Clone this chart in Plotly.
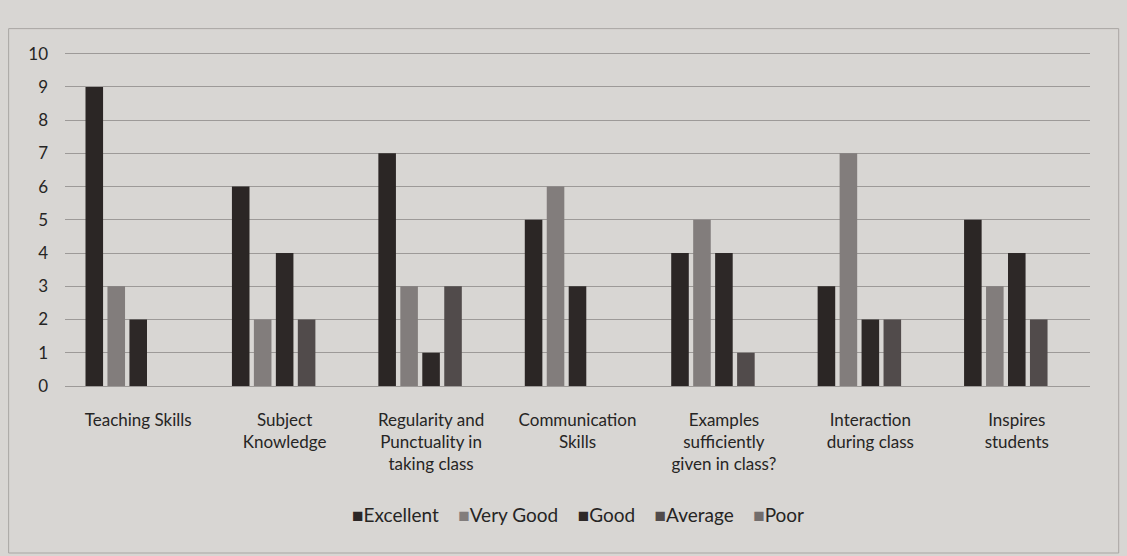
import plotly.graph_objects as go

categories = [
    "Teaching Skills",
    "Subject<br>Knowledge",
    "Regularity and<br>Punctuality in<br>taking class",
    "Communication<br>Skills",
    "Examples<br>sufficiently<br>given in class?",
    "Interaction<br>during class",
    "Inspires<br>students",
]

excellent = [9, 6, 7, 5, 4, 3, 5]
very_good = [3, 2, 3, 6, 5, 7, 3]
good = [2, 4, 1, 3, 4, 2, 4]
average = [0, 2, 3, 0, 1, 2, 2]
poor = [0, 0, 0, 0, 0, 0, 0]

series = [
    ("Excellent", excellent, "#2b2625"),
    ("Very Good", very_good, "#827d7c"),
    ("Good", good, "#2d2827"),
    ("Average", average, "#514b4b"),
    ("Poor", poor, "#726d6c"),
]

paper = "#d8d6d3"
text_color = "#262524"
font_family = "Lato, 'Open Sans', sans-serif"

fig = go.Figure()
for name, values, color in series:
    fig.add_trace(go.Bar(
        name=name,
        x=categories,
        y=values,
        marker=dict(color=color, line=dict(width=0)),
    ))

fig.update_layout(
    width=1127,
    height=556,
    barmode="group",
    bargap=0.25,
    bargroupgap=0.2,
    paper_bgcolor=paper,
    plot_bgcolor=paper,
    margin=dict(l=65, r=37, t=52, b=170, autoexpand=False),
    font=dict(family=font_family, size=17, color=text_color),
    xaxis=dict(
        showgrid=False,
        showline=False,
        ticks="",
        ticklabelstandoff=22,
        automargin=False,
        tickfont=dict(size=17, color=text_color),
    ),
    yaxis=dict(
        range=[0, 10.05],
        dtick=1,
        showgrid=True,
        gridcolor="#9d9a98",
        gridwidth=1,
        zeroline=True,
        zerolinecolor="#9d9a98",
        zerolinewidth=1,
        ticks="",
        ticklabelstandoff=16,
        automargin=False,
        tickfont=dict(size=17, color=text_color),
    ),
    showlegend=False,
)

# Legend row: colored square key followed by the series name
legend_items = [
    f"<span style='color:{color};font-size:19px'>■</span>{name}" for name, _, color in series
]
fig.add_annotation(
    xref="paper", yref="paper",
    x=0.5, y=-0.385,
    xanchor="center", yanchor="middle",
    text="&nbsp;&nbsp;&nbsp;&nbsp;".join(legend_items),
    showarrow=False,
    font=dict(family=font_family, size=19, color=text_color),
)

# Chart frame
fig.add_shape(
    type="rect", xref="paper", yref="paper",
    x0=-0.055, x1=1.028, y0=-0.5, y1=1.07,
    line=dict(color="#a9a6a3", width=1),
    fillcolor="rgba(0,0,0,0)",
    layer="below",
)

fig.write_html("out.html")
